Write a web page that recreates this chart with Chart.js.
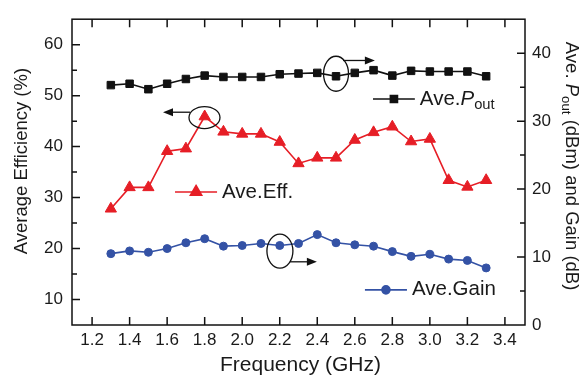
<!DOCTYPE html>
<html>
<head>
<meta charset="utf-8">
<script src="https://cdn.jsdelivr.net/npm/chart.js@4/dist/chart.umd.min.js"></script>
<style>
  html, body { margin: 0; padding: 0; background: #fff; }
  #wrap { width: 587px; height: 379px; }
</style>
</head>
<body>
<div id="wrap"><canvas id="chart" width="587" height="379"></canvas></div>
<script>
// data
const freqs = [1.3, 1.4, 1.5, 1.6, 1.7, 1.8, 1.9, 2.0, 2.1, 2.2, 2.3, 2.4, 2.5, 2.6, 2.7, 2.8, 2.9, 3.0, 3.1, 3.2, 3.3];
const aveEff = [27.8, 32.0, 32.0, 39.1, 39.6, 45.9, 42.9, 42.5, 42.5, 40.9, 36.7, 37.8, 37.8, 41.3, 42.8, 43.9, 41.0, 41.5, 33.4, 32.1, 33.4];
const avePout = [35.3, 35.5, 34.7, 35.5, 36.2, 36.7, 36.5, 36.5, 36.5, 36.9, 37.0, 37.1, 36.6, 37.1, 37.5, 36.7, 37.4, 37.3, 37.3, 37.3, 36.6];
const aveGain = [10.5, 10.9, 10.7, 11.25, 12.1, 12.7, 11.6, 11.7, 12.0, 11.7, 12.0, 13.3, 12.1, 11.8, 11.6, 10.8, 10.1, 10.4, 9.7, 9.5, 8.4];

const xTicks = [1.2, 1.4, 1.6, 1.8, 2.0, 2.2, 2.4, 2.6, 2.8, 3.0, 3.2, 3.4];
const leftTicks = [10, 20, 30, 40, 50, 60];
const rightTicks = [0, 10, 20, 30, 40];

const FONT = '"Liberation Sans", Arial, Helvetica, sans-serif';
const RED = 'rgb(230, 30, 38)';
const BLUE = 'rgb(52, 82, 165)';
const BLACK = '#111';

const toPoints = ys => freqs.map((f, i) => ({ x: f, y: ys[i] }));

// annotation placements, in data units (x: GHz, y: left axis %)
const notes = {
  eff:  { ell: [1.799, 45.7, 15.5, 11], arrow: [1.722, 46.75, 1.578] },
  pout: { ell: [2.500, 54.3, 12.5, 17.5], arrow: [2.537, 56.9, 2.707] },
  gain: { ell: [2.201, 19.5, 13, 17], arrow: [2.255, 17.4, 2.398] },
};
const legendItems = [
  { x1: 2.697, x2: 2.920, y: 49.35, color: BLACK, style: 'rect', r: 5, parts: [['Ave.', ''], ['P', 'italic'], ['out', 'sub']] },
  { x1: 1.642, x2: 1.866, y: 31.1, color: RED, style: 'triangle', r: 6.5, parts: [['Ave.Eff.', '']] },
  { x1: 2.654, x2: 2.878, y: 11.9, color: BLUE, style: 'circle', r: 4, parts: [['Ave.Gain', '']] },
];

function arrow(ctx, x1, y, x2) {
  const dir = Math.sign(x2 - x1);
  ctx.beginPath();
  ctx.moveTo(x1, y);
  ctx.lineTo(x2 - dir * 8, y);
  ctx.stroke();
  ctx.beginPath();
  ctx.moveTo(x2, y);
  ctx.lineTo(x2 - dir * 10, y - 4);
  ctx.lineTo(x2 - dir * 10, y + 4);
  ctx.closePath();
  ctx.fill();
}

function richText(ctx, parts, size, x, y) {
  let cx = x;
  parts.forEach(([t, kind]) => {
    let s = size, dy = 0, st = '';
    if (kind === 'italic') st = 'italic ';
    if (kind === 'sub') { s = size * 0.72; dy = size * 0.3; }
    ctx.font = st + s + 'px ' + FONT;
    ctx.fillText(t, cx, y + dy);
    cx += ctx.measureText(t).width;
  });
  return cx - x;
}

function measureRich(ctx, parts, size) {
  let w = 0;
  parts.forEach(([t, kind]) => {
    let s = kind === 'sub' ? size * 0.72 : size;
    ctx.font = (kind === 'italic' ? 'italic ' : '') + s + 'px ' + FONT;
    w += ctx.measureText(t).width;
  });
  return w;
}

const decor = {
  id: 'decor',
  afterDraw(chart) {
    const { ctx, chartArea: a, scales } = chart;
    const sx = scales.x, sy = scales.y, sy2 = scales.y2;
    ctx.save();

    // frame + inward ticks
    ctx.strokeStyle = BLACK;
    ctx.lineWidth = 1.5;
    ctx.strokeRect(a.left, a.top, a.right - a.left, a.bottom - a.top);
    ctx.beginPath();
    xTicks.forEach(v => {
      const px = sx.getPixelForValue(v);
      ctx.moveTo(px, a.bottom); ctx.lineTo(px, a.bottom - 8);
      ctx.moveTo(px, a.top); ctx.lineTo(px, a.top + 8);
    });
    for (let v = 10; v < 65; v += 5) {
      const py = sy.getPixelForValue(v);
      ctx.moveTo(a.left, py); ctx.lineTo(a.left + (v % 10 === 0 ? 8 : 5), py);
    }
    for (let v = 5; v < 45; v += 5) {
      const py = sy2.getPixelForValue(v);
      ctx.moveTo(a.right, py); ctx.lineTo(a.right - (v % 10 === 0 ? 8 : 5), py);
    }
    ctx.stroke();

    // ellipses and arrows
    ctx.lineWidth = 1.3;
    ctx.fillStyle = BLACK;
    Object.values(notes).forEach(n => {
      const [ex, ey, rx, ry] = n.ell;
      ctx.beginPath();
      ctx.ellipse(sx.getPixelForValue(ex), sy.getPixelForValue(ey), rx, ry, 0, 0, Math.PI * 2);
      ctx.stroke();
      const [ax1, ay, ax2] = n.arrow;
      arrow(ctx, sx.getPixelForValue(ax1), sy.getPixelForValue(ay), sx.getPixelForValue(ax2));
    });

    // in-plot legend entries
    legendItems.forEach(it => {
      const x1 = sx.getPixelForValue(it.x1), x2 = sx.getPixelForValue(it.x2), y = sy.getPixelForValue(it.y);
      ctx.strokeStyle = it.color;
      ctx.fillStyle = it.color;
      ctx.lineWidth = 1.6;
      ctx.beginPath(); ctx.moveTo(x1, y); ctx.lineTo(x2, y); ctx.stroke();
      Chart.helpers.drawPoint(ctx, { pointStyle: it.style, radius: it.r, borderWidth: 1 }, (x1 + x2) / 2, y);
      ctx.fillStyle = '#1a1a1a';
      ctx.textAlign = 'left';
      ctx.textBaseline = 'middle';
      richText(ctx, it.parts, 20.5, x2 + 5, y);
    });

    // axis titles
    ctx.fillStyle = '#1a1a1a';
    ctx.textAlign = 'center';
    ctx.textBaseline = 'middle';
    ctx.font = '21px ' + FONT;
    ctx.fillText('Frequency (GHz)', (a.left + a.right) / 2 + 2, 365);

    ctx.save();
    ctx.translate(22, (a.top + a.bottom) / 2 - 11);
    ctx.rotate(-Math.PI / 2);
    ctx.font = '18.5px ' + FONT;
    ctx.fillText('Average Efficiency (%)', 0, 0);
    ctx.restore();

    const rParts = [['Ave. ', ''], ['P', 'italic'], ['out', 'sub'], [' (dBm) and Gain (dB)', '']];
    ctx.save();
    ctx.translate(571, (a.top + a.bottom) / 2 - 6);
    ctx.rotate(Math.PI / 2);
    ctx.textAlign = 'left';
    const w = measureRich(ctx, rParts, 18.5);
    richText(ctx, rParts, 18.5, -w / 2, 0);
    ctx.restore();

    ctx.restore();
  }
};

const tickFont = { family: FONT, size: 17 };

new Chart(document.getElementById('chart'), {
  type: 'line',
  data: {
    datasets: [
      { label: 'Ave.Pout', data: toPoints(avePout), yAxisID: 'y2', borderColor: BLACK, backgroundColor: BLACK,
        pointStyle: 'rect', pointRadius: 5.3, borderWidth: 1.6, pointBorderWidth: 1 },
      { label: 'Ave.Eff.', data: toPoints(aveEff), yAxisID: 'y', borderColor: RED, backgroundColor: RED,
        pointStyle: 'triangle', pointRadius: 6.5, borderWidth: 1.6, pointBorderWidth: 1 },
      { label: 'Ave.Gain', data: toPoints(aveGain), yAxisID: 'y2', borderColor: BLUE, backgroundColor: BLUE,
        pointStyle: 'circle', pointRadius: 4, borderWidth: 1.6, pointBorderWidth: 1 },
    ]
  },
  options: {
    responsive: false,
    animation: false,
    layout: { padding: { top: 10, left: 0, right: 0, bottom: 0 } },
    plugins: { legend: { display: false }, tooltip: { enabled: false } },
    scales: {
      x: {
        type: 'linear', min: 1.093, max: 3.507,
        grid: { display: false, drawTicks: false }, border: { display: false },
        afterBuildTicks: s => { s.ticks = xTicks.map(v => ({ value: v })); },
        afterFit: s => { s.height = 54; },
        ticks: { font: tickFont, color: '#1a1a1a', padding: 5, maxRotation: 0, autoSkip: false,
                 callback: v => Number(v).toFixed(1) }
      },
      y: {
        position: 'left', min: 5, max: 65,
        grid: { display: false, drawTicks: false }, border: { display: false },
        afterBuildTicks: s => { s.ticks = leftTicks.map(v => ({ value: v })); },
        afterFit: s => { s.width = 72; },
        ticks: { font: tickFont, color: '#1a1a1a', padding: 9 }
      },
      y2: {
        position: 'right', min: 0, max: 45,
        grid: { display: false, drawTicks: false }, border: { display: false },
        afterBuildTicks: s => { s.ticks = rightTicks.map(v => ({ value: v })); },
        afterFit: s => { s.width = 62; },
        ticks: { font: tickFont, color: '#1a1a1a', padding: 7 }
      }
    }
  },
  plugins: [decor]
});
</script>
</body>
</html>
